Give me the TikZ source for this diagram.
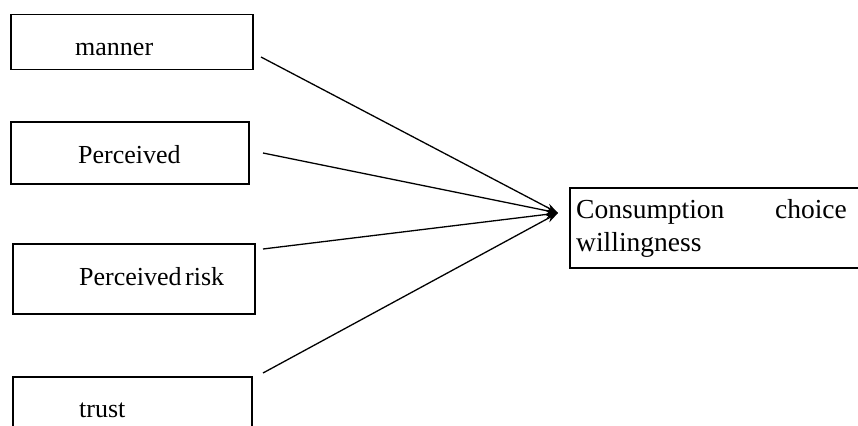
\documentclass[tikz,border=0pt]{standalone}
\usepackage{fontspec}
\setmainfont{Liberation Serif}
\usetikzlibrary{arrows.meta}
\begin{document}
\begin{tikzpicture}[x=1pt,y=-1pt,
  box/.style={draw, line width=1.5pt, anchor=north west, inner sep=0pt},
  lbl/.style={anchor=base west, inner sep=0pt, font=\fontsize{26}{30}\selectfont},
  rlbl/.style={inner sep=0pt, font=\fontsize{27.5}{32}\selectfont},
  link/.style={line width=1.3pt, -{Stealth[length=12pt,width=8pt]}}]
\useasboundingbox (0,0) rectangle (858,425);
\clip (0,0) rectangle (858,425);
% left boxes
\node[box, minimum width=242pt, minimum height=55pt] (b1) at (10,14) {};
\node[box, minimum width=238pt, minimum height=62pt] (b2) at (10,121) {};
\node[box, minimum width=242pt, minimum height=70pt] (b3) at (12,243) {};
\node[box, minimum width=239pt, minimum height=80pt] (b4) at (12,376) {};
\node[lbl] (t1) at (75,56) {manner};
\node[lbl] (t2) at (78,163) {Perceived};
\node[lbl] (t3) at (79,285) {Perceived\kern3.5pt risk};
\node[lbl] (t4) at (79,417) {trust};
% right box
\node[box, minimum width=320pt, minimum height=80pt] (cw) at (569,187) {};
\node[rlbl, anchor=base west] (c1) at (576,218) {Consumption};
\node[rlbl, anchor=base east] (c2) at (847,218) {choice};
\node[rlbl, anchor=base west] (c3) at (576,251) {willingness};
% connectors
\coordinate (s1) at (261,57);
\coordinate (s2) at (263,153);
\coordinate (s3) at (263,249);
\coordinate (s4) at (263,373);
\coordinate (tip) at (558,213);
\draw[link] (s1) -- (tip);
\draw[link] (s2) -- (tip);
\draw[link] (s3) -- (tip);
\draw[link] (s4) -- (tip);
\end{tikzpicture}
\end{document}
